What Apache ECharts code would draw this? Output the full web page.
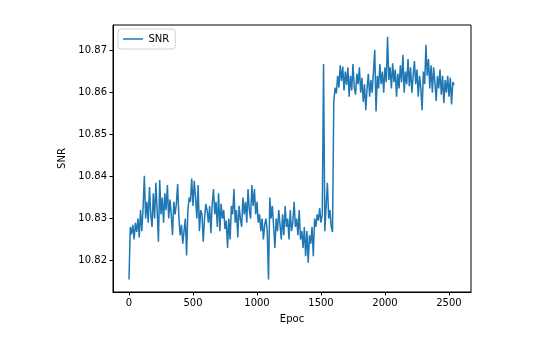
<!DOCTYPE html>
<html>
<head>
<meta charset="utf-8">
<script src="https://cdn.jsdelivr.net/npm/echarts@6/dist/echarts.min.js"></script>
<style>
  html, body { margin: 0; padding: 0; background: #fff; }
  #chart { width: 538px; height: 350px; }
</style>
</head>
<body>
<div id="chart"></div>
<script>
const epochStep = 10
const snr = [
  10.8155, 10.8280, 10.8262, 10.8285, 10.8250, 10.8290, 10.8268, 10.8300, 10.8255, 10.8320,
  10.8270, 10.8325, 10.8402, 10.8300, 10.8340, 10.8290, 10.8375, 10.8310, 10.8280, 10.8360,
  10.8300, 10.8385, 10.8320, 10.8245, 10.8392, 10.8310, 10.8350, 10.8290, 10.8360, 10.8320,
  10.8380, 10.8300, 10.8345, 10.8310, 10.8260, 10.8340, 10.8310, 10.8335, 10.8382, 10.8300,
  10.8260, 10.8285, 10.8240, 10.8270, 10.8300, 10.8212, 10.8320, 10.8350, 10.8340, 10.8395,
  10.8330, 10.8390, 10.8350, 10.8300, 10.8380, 10.8270, 10.8320, 10.8310, 10.8245, 10.8300,
  10.8335, 10.8320, 10.8290, 10.8330, 10.8265, 10.8335, 10.8370, 10.8310, 10.8340, 10.8280,
  10.8360, 10.8270, 10.8335, 10.8300, 10.8320, 10.8275, 10.8295, 10.8230, 10.8300, 10.8250,
  10.8330, 10.8310, 10.8370, 10.8290, 10.8320, 10.8255, 10.8330, 10.8300, 10.8280, 10.8350,
  10.8310, 10.8340, 10.8290, 10.8370, 10.8320, 10.8300, 10.8380, 10.8330, 10.8370, 10.8310,
  10.8340, 10.8290, 10.8310, 10.8270, 10.8300, 10.8250, 10.8285, 10.8300, 10.8270, 10.8155,
  10.8350, 10.8300, 10.8330, 10.8280, 10.8230, 10.8300, 10.8270, 10.8320, 10.8285, 10.8250,
  10.8310, 10.8260, 10.8330, 10.8280, 10.8300, 10.8250, 10.8320, 10.8270, 10.8290, 10.8340,
  10.8280, 10.8300, 10.8260, 10.8320, 10.8250, 10.8270, 10.8230, 10.8280, 10.8210, 10.8270,
  10.8195, 10.8260, 10.8240, 10.8280, 10.8210, 10.8300, 10.8280, 10.8310, 10.8295, 10.8325,
  10.8290, 10.8310, 10.8668, 10.8270, 10.8330, 10.8385, 10.8300, 10.8320, 10.8280, 10.8268,
  10.8578, 10.8612, 10.8598, 10.8640, 10.8612, 10.8665, 10.8628, 10.8662, 10.8605, 10.8650,
  10.8618, 10.8660, 10.8590, 10.8640, 10.8605, 10.8668, 10.8612, 10.8595, 10.8645, 10.8620,
  10.8660, 10.8600, 10.8635, 10.8578, 10.8620, 10.8558, 10.8610, 10.8645, 10.8590, 10.8630,
  10.8600, 10.8650, 10.8702, 10.8555, 10.8640, 10.8610, 10.8668, 10.8620, 10.8650, 10.8600,
  10.8660, 10.8625, 10.8733, 10.8630, 10.8660, 10.8610, 10.8670, 10.8625, 10.8655, 10.8590,
  10.8645, 10.8610, 10.8665, 10.8625, 10.8690, 10.8600, 10.8650, 10.8620, 10.8680, 10.8615,
  10.8660, 10.8600, 10.8640, 10.8675, 10.8620, 10.8655, 10.8590, 10.8640, 10.8610, 10.8558,
  10.8650, 10.8620, 10.8714, 10.8640, 10.8680, 10.8610, 10.8665, 10.8600, 10.8660, 10.8625,
  10.8580, 10.8640, 10.8610, 10.8655, 10.8595, 10.8640, 10.8575, 10.8630, 10.8600, 10.8640,
  10.8590, 10.8635, 10.8572, 10.8625, 10.8618
]
const xTicks = [0, 500, 1000, 1500, 2000, 2500]
const yTicks = [10.82, 10.83, 10.84, 10.85, 10.86, 10.87]

const points = snr.map((v, i) => [i * epochStep, v])

const chart = echarts.init(document.getElementById('chart'))
const font = 'DejaVu Sans'
chart.setOption({
  animation: false,
  textStyle: { fontFamily: font },
  grid: {
    left: 113, right: 67, top: 25, bottom: 58,
    show: true, borderColor: '#000', borderWidth: 1, backgroundColor: '#fff'
  },
  legend: {
    left: 118, top: 29,
    data: [{ name: 'SNR', icon: 'path://M0,0 H20 V1.5 H0 Z' }],
    itemWidth: 21, itemHeight: 1.5, itemGap: 6,
    padding: [5, 6, 5, 5],
    borderColor: '#d0d0d0', borderWidth: 1, borderRadius: 3,
    textStyle: { fontFamily: font, fontSize: 10, color: '#000' }
  },
  xAxis: {
    type: 'value', min: -125, max: 2672,
    name: 'Epoc', nameLocation: 'middle', nameGap: 22,
    nameTextStyle: { fontFamily: font, fontSize: 10, color: '#000' },
    axisLine: { show: true, onZero: false, lineStyle: { color: '#000', width: 1 } },
    axisTick: { show: true, length: 3.5, inside: false, customValues: xTicks, lineStyle: { color: '#000' } },
    axisLabel: { customValues: xTicks, fontFamily: font, fontSize: 10, color: '#000', margin: 6,
      formatter: v => String(v) },
    splitLine: { show: false }
  },
  yAxis: {
    type: 'value', min: 10.8125, max: 10.8761,
    name: 'SNR', nameLocation: 'middle', nameGap: 44, nameRotate: 90,
    nameTextStyle: { fontFamily: font, fontSize: 10, color: '#000' },
    axisLine: { show: true, onZero: false, lineStyle: { color: '#000', width: 1 } },
    axisTick: { show: true, length: 3.5, inside: false, customValues: yTicks, lineStyle: { color: '#000' } },
    axisLabel: { customValues: yTicks, fontFamily: font, fontSize: 10, color: '#000', margin: 6,
      formatter: v => v.toFixed(2) },
    splitLine: { show: false }
  },
  series: [{
    name: 'SNR',
    type: 'line',
    data: points,
    symbol: 'none',
    lineStyle: { color: '#1f77b4', width: 1.5 },
    itemStyle: { color: '#1f77b4' }
  }]
})
</script>
</body>
</html>
